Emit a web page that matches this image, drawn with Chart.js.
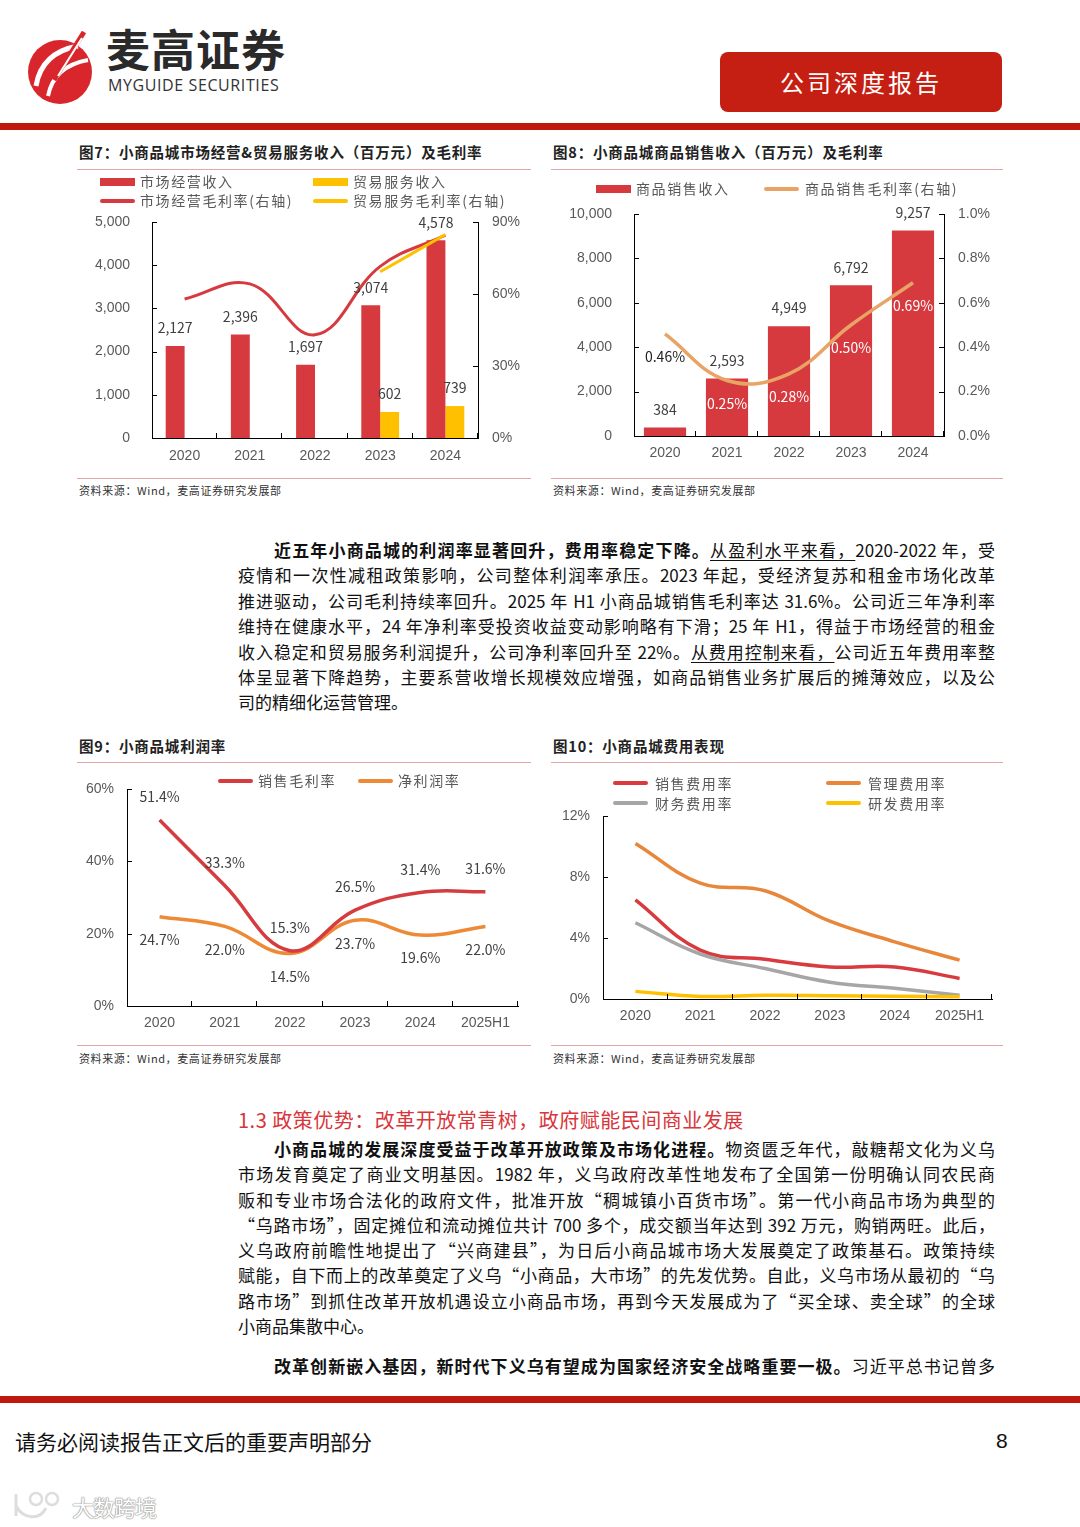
<!DOCTYPE html>
<html lang="zh-CN">
<head>
<meta charset="UTF-8">
<title>小商品城 公司深度报告 第8页</title>
<script src="https://cdn.jsdelivr.net/npm/chart.js"></script>
<style>
    html, body { margin: 0; padding: 0; }
    body {
        width: 1080px; height: 1527px; position: relative; overflow: hidden;
        background: #fff; color: #111;
        font-family: "Noto Sans CJK SC", sans-serif;
    }
    .abs { position: absolute; }
    .brand { left: 106px; top: 22px; font-size: 44px; font-weight: 700; color: #2a2a2a; line-height: 52px; letter-spacing: 1px; }
    .brand-en { left: 108px; top: 76px; font-family: "Open Sans", "Liberation Sans", sans-serif; font-size: 16px; color: #333; letter-spacing: 0.6px; line-height: 18px; }
    .tag { left: 720px; top: 52px; width: 282px; height: 60px; background: #c41f12; border-radius: 8px;
           color: #fff; font-size: 24px; line-height: 60px; text-align: center; letter-spacing: 3px; }
    .rule-top { left: 0; top: 123px; width: 1080px; height: 7px; background: #c0170f; }
    .rule-bot { left: 0; top: 1396px; width: 1080px; height: 7px; background: #c0170f; }
    .ctitle { font-size: 14.5px; font-weight: 700; color: #222; letter-spacing: 0.8px; line-height: 18px; }
    .hline { height: 1px; background: #e4a6a6; }
    .src { font-size: 11px; color: #333; line-height: 14px; letter-spacing: 0.6px; }
    .lg { font-size: 14px; color: #595959; line-height: 18px; letter-spacing: 1.6px; white-space: nowrap; }
    .sym { position: absolute; width: 35px; }
    .box { height: 8px; }
    .ln { height: 4px; border-radius: 2px; }
    canvas { position: absolute; }
    .para { left: 238px; width: 757px; font-size: 17px; }
    .para div { white-space: nowrap; }
    .para .j { text-align: justify; text-align-last: justify; }
    .para .in { padding-left: 36px; }
    .para b { font-weight: 700; }
    .para u { text-decoration: underline; text-underline-offset: 3px; }
    .head13 { left: 238px; top: 1106px; font-size: 20px; line-height: 28px; color: #d8363b; letter-spacing: 0.5px; }
    .foot { left: 15px; top: 1427px; font-size: 21px; line-height: 28px; color: #111; }
    .pnum { left: 996px; top: 1427px; font-size: 21px; line-height: 28px; font-family: "Liberation Sans", sans-serif; }
    .wm { left: 72px; top: 1492px; font-size: 22px; line-height: 28px; color: #fff;
          text-shadow: 0 0 1px #888, 0 0 1px #888, 0 0 2px #aaa; letter-spacing: -1px; }
</style>
</head>
<body>

<!-- header -->
<svg class="abs" style="left:24px;top:26px" width="76" height="84" viewBox="0 0 76 84">
    <circle cx="36" cy="46" r="32" fill="#d8262c"/>
    <path d="M12 60 C16 36 32 24 54 20" stroke="#fff" stroke-width="5" fill="none"/>
    <path d="M24 70 C28 50 42 38 64 34" stroke="#fff" stroke-width="4" fill="none"/>
    <path d="M30 54 L60 6" stroke="#d8262c" stroke-width="5"/>
    <path d="M34 50 L58 12" stroke="#fff" stroke-width="2"/>
</svg>
<div class="abs brand">麦高证券</div>
<div class="abs brand-en">MYGUIDE SECURITIES</div>
<div class="abs tag">公司深度报告</div>
<div class="abs rule-top"></div>

<!-- figure 7 -->
<div class="abs ctitle" style="left:79px;top:143px">图7：小商品城市场经营&amp;贸易服务收入（百万元）及毛利率</div>
<div class="abs hline" style="left:77px;top:169px;width:454px"></div>
<canvas id="chart7" width="453" height="265" style="left:77px;top:205px"></canvas>
<div class="sym box" style="left:100px;top:178px;background:#d63a3f"></div>
<div class="abs lg" style="left:140px;top:172px">市场经营收入</div>
<div class="sym box" style="left:313px;top:178px;background:#ffc000"></div>
<div class="abs lg" style="left:353px;top:172px">贸易服务收入</div>
<div class="sym ln" style="left:100px;top:199px;background:#d63a3f"></div>
<div class="abs lg" style="left:140px;top:191px">市场经营毛利率(右轴)</div>
<div class="sym ln" style="left:313px;top:199px;background:#ffc000"></div>
<div class="abs lg" style="left:353px;top:191px">贸易服务毛利率(右轴)</div>
<div class="abs hline" style="left:77px;top:478px;width:454px"></div>
<div class="abs src" style="left:79px;top:483px">资料来源：Wind，麦高证券研究发展部</div>

<!-- figure 8 -->
<div class="abs ctitle" style="left:553px;top:143px">图8：小商品城商品销售收入（百万元）及毛利率</div>
<div class="abs hline" style="left:551px;top:169px;width:452px"></div>
<canvas id="chart8" width="452" height="273" style="left:551px;top:197px"></canvas>
<div class="sym box" style="left:596px;top:185px;background:#d63a3f"></div>
<div class="abs lg" style="left:636px;top:179px">商品销售收入</div>
<div class="sym ln" style="left:764px;top:187px;background:#e9a465"></div>
<div class="abs lg" style="left:805px;top:179px">商品销售毛利率(右轴)</div>
<div class="abs hline" style="left:551px;top:478px;width:452px"></div>
<div class="abs src" style="left:553px;top:483px">资料来源：Wind，麦高证券研究发展部</div>

<!-- paragraph 1 -->
<div class="abs para" style="top:537px;line-height:25.4px">
    <div class="j in"><b>近五年小商品城的利润率显著回升，费用率稳定下降。</b><u>从盈利水平来看，</u>2020-2022 年，受</div>
    <div class="j">疫情和一次性减租政策影响，公司整体利润率承压。2023 年起，受经济复苏和租金市场化改革</div>
    <div class="j">推进驱动，公司毛利持续率回升。2025 年 H1 小商品城销售毛利率达 31.6%。公司近三年净利率</div>
    <div class="j">维持在健康水平，24 年净利率受投资收益变动影响略有下滑；25 年 H1，得益于市场经营的租金</div>
    <div class="j">收入稳定和贸易服务利润提升，公司净利率回升至 22%。<u>从费用控制来看，</u>公司近五年费用率整</div>
    <div class="j">体呈显著下降趋势，主要系营收增长规模效应增强，如商品销售业务扩展后的摊薄效应，以及公</div>
    <div>司的精细化运营管理。</div>
</div>

<!-- figure 9 -->
<div class="abs ctitle" style="left:79px;top:737px">图9：小商品城利润率</div>
<div class="abs hline" style="left:77px;top:762px;width:454px"></div>
<canvas id="chart9" width="453" height="269" style="left:77px;top:771px"></canvas>
<div class="sym ln" style="left:218px;top:779px;background:#d43c3f"></div>
<div class="abs lg" style="left:258px;top:771px">销售毛利率</div>
<div class="sym ln" style="left:358px;top:779px;background:#ee8a36"></div>
<div class="abs lg" style="left:398px;top:771px">净利润率</div>
<div class="abs hline" style="left:77px;top:1045px;width:454px"></div>
<div class="abs src" style="left:79px;top:1051px">资料来源：Wind，麦高证券研究发展部</div>

<!-- figure 10 -->
<div class="abs ctitle" style="left:553px;top:737px">图10：小商品城费用表现</div>
<div class="abs hline" style="left:551px;top:762px;width:452px"></div>
<canvas id="chart10" width="452" height="242" style="left:551px;top:798px"></canvas>
<div class="sym ln" style="left:613px;top:781px;background:#d83a3e"></div>
<div class="abs lg" style="left:655px;top:774px">销售费用率</div>
<div class="sym ln" style="left:826px;top:781px;background:#e8863a"></div>
<div class="abs lg" style="left:868px;top:774px">管理费用率</div>
<div class="sym ln" style="left:613px;top:801px;background:#a6a6a6"></div>
<div class="abs lg" style="left:655px;top:794px">财务费用率</div>
<div class="sym ln" style="left:826px;top:801px;background:#ffc000"></div>
<div class="abs lg" style="left:868px;top:794px">研发费用率</div>
<div class="abs hline" style="left:551px;top:1045px;width:452px"></div>
<div class="abs src" style="left:553px;top:1051px">资料来源：Wind，麦高证券研究发展部</div>

<!-- section 1.3 -->
<div class="abs head13">1.3 政策优势：改革开放常青树，政府赋能民间商业发展</div>
<div class="abs para" style="top:1136px;line-height:25.3px">
    <div class="j in"><b>小商品城的发展深度受益于改革开放政策及市场化进程。</b>物资匮乏年代，敲糖帮文化为义乌</div>
    <div class="j">市场发育奠定了商业文明基因。1982 年，义乌政府改革性地发布了全国第一份明确认同农民商</div>
    <div class="j">贩和专业市场合法化的政府文件，批准开放“稠城镇小百货市场”。第一代小商品市场为典型的</div>
    <div class="j">“乌路市场”，固定摊位和流动摊位共计 700 多个，成交额当年达到 392 万元，购销两旺。此后，</div>
    <div class="j">义乌政府前瞻性地提出了“兴商建县”，为日后小商品城市场大发展奠定了政策基石。政策持续</div>
    <div class="j">赋能，自下而上的改革奠定了义乌“小商品，大市场”的先发优势。自此，义乌市场从最初的“乌</div>
    <div class="j">路市场”到抓住改革开放机遇设立小商品市场，再到今天发展成为了“买全球、卖全球”的全球</div>
    <div>小商品集散中心。</div>
</div>
<div class="abs para" style="top:1353px;line-height:25.3px">
    <div class="j in"><b>改革创新嵌入基因，新时代下义乌有望成为国家经济安全战略重要一极。</b>习近平总书记曾多</div>
</div>

<!-- footer -->
<div class="abs rule-bot"></div>
<div class="abs foot">请务必阅读报告正文后的重要声明部分</div>
<div class="abs pnum">8</div>
<svg class="abs" style="left:10px;top:1490px" width="62" height="32" viewBox="0 0 62 32">
    <path d="M6 4 L6 26 M6 16 C14 30 30 30 36 18" stroke="#ddd" stroke-width="3" fill="none"/>
    <circle cx="26" cy="9" r="6" stroke="#ddd" stroke-width="2.5" fill="none"/>
    <circle cx="42" cy="9" r="6" stroke="#ddd" stroke-width="2.5" fill="none"/>
</svg>
<div class="abs wm">大数跨境</div>

<script>
    // categories
    const years5 = ['2020', '2021', '2022', '2023', '2024'];
    const years6 = ['2020', '2021', '2022', '2023', '2024', '2025H1'];

    // fig 7: market operation & trade service revenue (million yuan), gross margin (%)
    const marketRevenue = [2127, 2396, 1697, 3074, 4578];
    const tradeRevenue = [null, null, null, 602, 739];
    const marketMargin = [57.9, 64.2, 43.0, 71.5, 84.5];
    const tradeMargin = [null, null, null, 69.3, 84.8];
    const revTicks7 = [0, 1000, 2000, 3000, 4000, 5000];
    const pctTicks7 = [0, 30, 60, 90];

    // fig 8: goods sales revenue (million yuan), gross margin (%)
    const goodsRevenue = [384, 2593, 4949, 6792, 9257];
    const goodsMargin = [0.46, 0.25, 0.28, 0.50, 0.69];
    const revTicks8 = [0, 2000, 4000, 6000, 8000, 10000];
    const pctTicks8 = [0, 0.2, 0.4, 0.6, 0.8, 1.0];

    // fig 9: margins (%)
    const grossMargin = [51.4, 33.3, 15.3, 26.5, 31.4, 31.6];
    const netMargin = [24.7, 22.0, 14.5, 23.7, 19.6, 22.0];
    const pctTicks9 = [0, 20, 40, 60];

    // fig 10: expense ratios (%)
    const sellingExp = [6.5, 3.2, 2.6, 2.1, 2.1, 1.35];
    const adminExp = [10.2, 7.6, 7.1, 5.1, 3.75, 2.55];
    const financeExp = [5.0, 2.95, 2.0, 1.1, 0.7, 0.25];
    const rdExp = [0.5, 0.17, 0.24, 0.22, 0.18, 0.15];
    const pctTicks10 = [0, 4, 8, 12];

    Chart.defaults.animation = false;
    Chart.defaults.font.family = '"Noto Sans CJK SC", sans-serif';
    Chart.defaults.plugins.legend.display = false;
    Chart.defaults.plugins.tooltip.enabled = false;

    const tickFont = { family: '"Liberation Sans", sans-serif', size: 14 };
    const tickColor = '#595959';

    // value labels drawn next to each bar / point
    const valueLabels = {
        id: 'valueLabels',
        afterDatasetsDraw(chart) {
            const ctx = chart.ctx;
            chart.data.datasets.forEach((ds, i) => {
                if (!ds.labelFmt) return;
                chart.getDatasetMeta(i).data.forEach((el, j) => {
                    const v = ds.data[j];
                    if (v === null || v === undefined) return;
                    ctx.save();
                    ctx.font = '14px "Noto Sans CJK SC", sans-serif';
                    ctx.fillStyle = Array.isArray(ds.labelColor) ? ds.labelColor[j] : (ds.labelColor || '#404040');
                    ctx.textAlign = 'center';
                    ctx.textBaseline = 'middle';
                    ctx.fillText(ds.labelFmt(v), el.x, el.y + ds.labelGap);
                    ctx.restore();
                });
            });
        }
    };

    // short tick marks pointing into the plot, like the source charts
    const innerTicks = {
        id: 'innerTicks',
        afterDraw(chart) {
            const ctx = chart.ctx;
            ctx.save();
            ctx.strokeStyle = '#000';
            ctx.lineWidth = 1;
            ctx.beginPath();
            Object.values(chart.scales).forEach(s => {
                if (!s.options.innerTicks) return;
                if (s.axis === 'x') {
                    const n = s.ticks.length;
                    const step = (s.right - s.left) / n;
                    for (let i = 1; i <= n; i++) {
                        const x = Math.round(s.left + i * step) - 0.5;
                        ctx.moveTo(x, s.top);
                        ctx.lineTo(x, s.top - 5);
                    }
                } else {
                    const isLeft = s.position === 'left';
                    const x = isLeft ? s.right : s.left;
                    s.ticks.forEach(t => {
                        const y = Math.round(s.getPixelForValue(t.value)) + 0.5;
                        ctx.moveTo(x, y);
                        ctx.lineTo(isLeft ? x + 5 : x - 5, y);
                    });
                }
            });
            ctx.stroke();
            ctx.restore();
        }
    };

    function yScale(list, pos, width, pad, fmt) {
        return {
            position: pos,
            min: list[0],
            max: list[list.length - 1],
            afterBuildTicks: s => { s.ticks = list.map(v => ({ value: v })); },
            afterFit: s => { s.width = width; s.paddingTop = 0; s.paddingBottom = 0; },
            grid: { display: false, drawTicks: false },
            border: { display: true, color: '#000', width: 1 },
            ticks: { font: tickFont, color: tickColor, padding: pad, callback: fmt },
            innerTicks: true
        };
    }

    function xScale(height, pad) {
        return {
            offset: true,
            afterFit: s => { s.height = height; },
            grid: { display: false, drawTicks: false, offset: true },
            border: { display: true, color: '#000', width: 1 },
            ticks: { font: tickFont, color: tickColor, padding: pad, maxRotation: 0 },
            innerTicks: true
        };
    }

    const thousands = v => v.toLocaleString('en-US');

    // Figure 7
    new Chart(document.getElementById('chart7'), {
        type: 'bar',
        data: {
            labels: years5,
            datasets: [
                { type: 'line', label: '贸易服务毛利率(右轴)', data: tradeMargin, yAxisID: 'y1',
                  borderColor: '#ffc000', borderWidth: 3, pointRadius: 0, tension: 0.4, order: 0 },
                { type: 'line', label: '市场经营毛利率(右轴)', data: marketMargin, yAxisID: 'y1',
                  borderColor: '#d63a3f', borderWidth: 3, pointRadius: 0, tension: 0.4, order: 1 },
                { label: '市场经营收入', data: marketRevenue, yAxisID: 'y', backgroundColor: '#d63a3f',
                  order: 2, labelFmt: thousands, labelGap: -18 },
                { label: '贸易服务收入', data: tradeRevenue, yAxisID: 'y', backgroundColor: '#ffc000',
                  order: 2, labelFmt: thousands, labelGap: -18 }
            ]
        },
        options: {
            responsive: false,
            categoryPercentage: 0.58,
            barPercentage: 1,
            layout: { padding: { top: 17 } },
            scales: {
                x: xScale(32, 10),
                y: yScale(revTicks7, 'left', 75, 22, thousands),
                y1: yScale(pctTicks7, 'right', 52, 14, v => v + '%')
            }
        },
        plugins: [valueLabels, innerTicks]
    });

    // Figure 8
    new Chart(document.getElementById('chart8'), {
        type: 'bar',
        data: {
            labels: years5,
            datasets: [
                { type: 'line', label: '商品销售毛利率(右轴)', data: goodsMargin, yAxisID: 'y1',
                  borderColor: '#e9a465', borderWidth: 3.5, pointRadius: 0, tension: 0.4, order: 0,
                  labelFmt: v => v.toFixed(2) + '%', labelGap: 23,
                  labelColor: ['#222', '#fff', '#fff', '#fff', '#fff'] },
                { label: '商品销售收入', data: goodsRevenue, yAxisID: 'y', backgroundColor: '#d63a3f',
                  order: 1, labelFmt: thousands, labelGap: -18 }
            ]
        },
        options: {
            responsive: false,
            categoryPercentage: 0.68,
            barPercentage: 1,
            layout: { padding: { top: 17 } },
            scales: {
                x: xScale(34, 9),
                y: yScale(revTicks8, 'left', 83, 22, thousands),
                y1: yScale(pctTicks8, 'right', 59, 14, v => v.toFixed(1) + '%')
            }
        },
        plugins: [valueLabels, innerTicks]
    });

    // Figure 9
    new Chart(document.getElementById('chart9'), {
        type: 'line',
        data: {
            labels: years6,
            datasets: [
                { label: '销售毛利率', data: grossMargin, borderColor: '#d43c3f', borderWidth: 3.5,
                  pointRadius: 0, tension: 0.4, labelFmt: v => v.toFixed(1) + '%', labelGap: -23 },
                { label: '净利润率', data: netMargin, borderColor: '#ee8a36', borderWidth: 3.5,
                  pointRadius: 0, tension: 0.4, labelFmt: v => v.toFixed(1) + '%', labelGap: 23 }
            ]
        },
        options: {
            responsive: false,
            layout: { padding: { top: 18, right: 12 } },
            scales: {
                x: xScale(34, 9),
                y: yScale(pctTicks9, 'left', 50, 13, v => v + '%')
            }
        },
        plugins: [valueLabels, innerTicks]
    });

    // Figure 10
    new Chart(document.getElementById('chart10'), {
        type: 'line',
        data: {
            labels: years6,
            datasets: [
                { label: '研发费用率', data: rdExp, borderColor: '#ffc000', borderWidth: 3.5, pointRadius: 0, tension: 0.4 },
                { label: '财务费用率', data: financeExp, borderColor: '#a6a6a6', borderWidth: 3.5, pointRadius: 0, tension: 0.4 },
                { label: '销售费用率', data: sellingExp, borderColor: '#d83a3e', borderWidth: 3.5, pointRadius: 0, tension: 0.4 },
                { label: '管理费用率', data: adminExp, borderColor: '#e8863a', borderWidth: 3.5, pointRadius: 0, tension: 0.4 }
            ]
        },
        options: {
            responsive: false,
            layout: { padding: { top: 18, right: 11 } },
            scales: {
                x: xScale(41, 9),
                y: yScale(pctTicks10, 'left', 52, 13, v => v + '%')
            }
        },
        plugins: [innerTicks]
    });
</script>
</body>
</html>
